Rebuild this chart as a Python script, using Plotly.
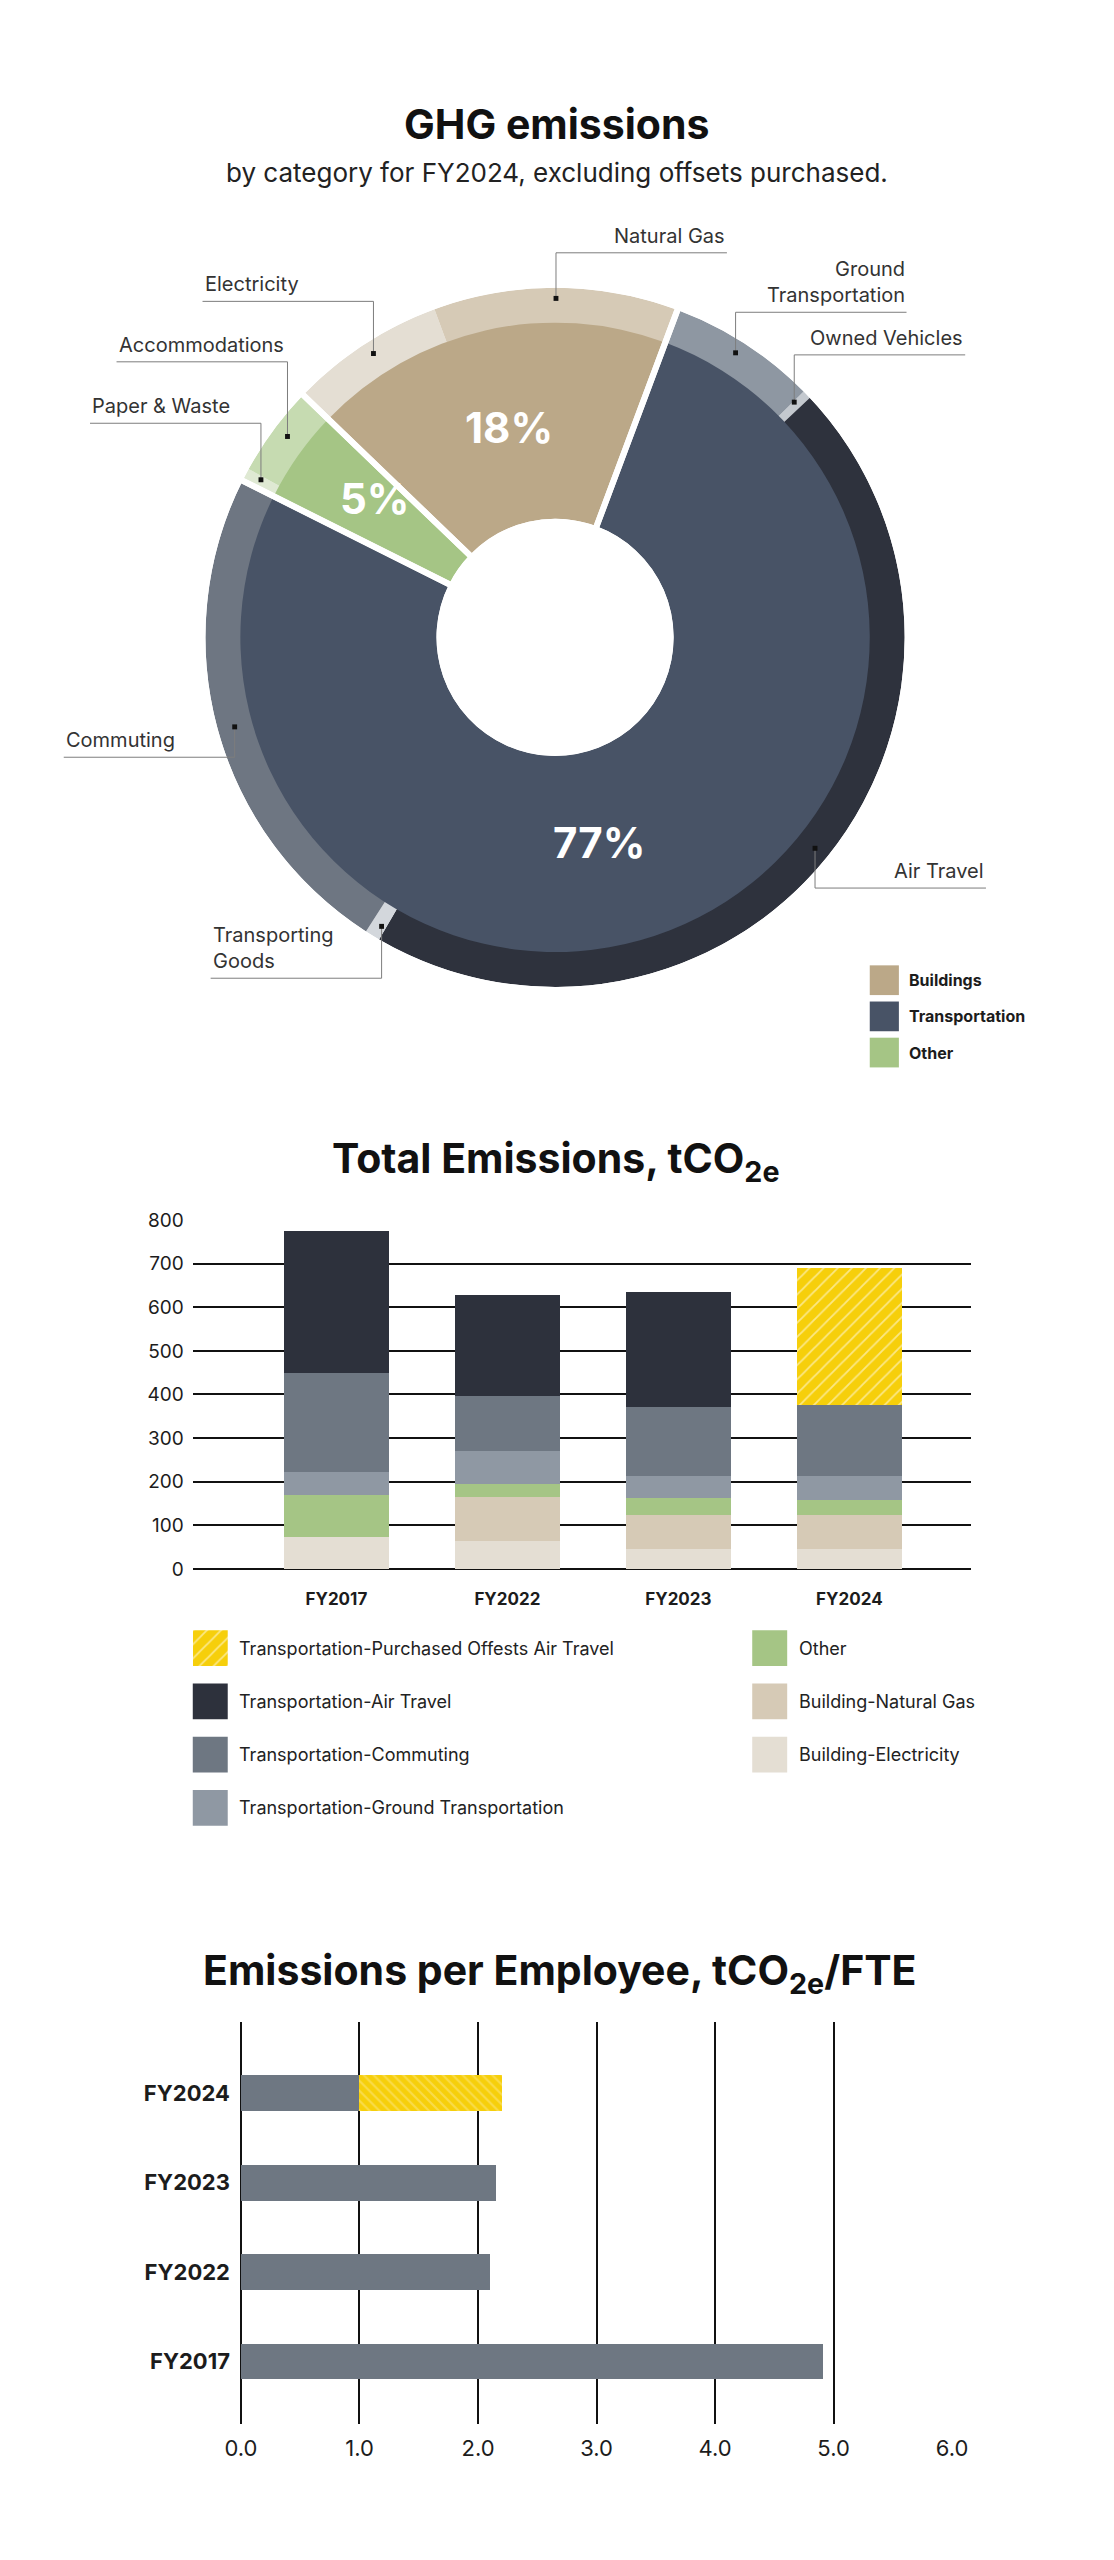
import math
import plotly.graph_objects as go

# ---------------------------------------------------------------------------
# Page / fonts
# ---------------------------------------------------------------------------
W, H = 1114, 2560
FONT = "Inter"
INK = "#1c1c1c"

# ---------------------------------------------------------------------------
# Data: donut (FY2024 share by category, %)
# ---------------------------------------------------------------------------
pie_sub_labels = ["Ground Transportation", "Owned Vehicles", "Air Travel",
                  "Transporting Goods", "Commuting", "Paper & Waste",
                  "Accommodations", "Electricity", "Natural Gas"]
pie_sub_values = [6.9, 0.4, 45.4, 0.7, 23.3, 0.6, 4.2, 7.2, 11.3]
pie_sub_group = ["Transportation", "Transportation", "Transportation",
                 "Transportation", "Transportation", "Other", "Other",
                 "Buildings", "Buildings"]
pie_main_labels = ["Transportation", "Other", "Buildings"]

# ---------------------------------------------------------------------------
# Data: total emissions, tCO2e (stacked, bottom to top)
# ---------------------------------------------------------------------------
bar_years = ["FY2017", "FY2022", "FY2023", "FY2024"]
bar_electricity = [73, 64, 45, 45]
bar_natural_gas = [0, 100, 79, 78]
bar_other = [97, 31, 38, 34]
bar_ground = [53, 75, 50, 55]
bar_commuting = [227, 127, 159, 163]
bar_air = [324, 232, 265, 0]
bar_offsets = [0, 0, 0, 316]
bar_ticks = [0, 100, 200, 300, 400, 500, 600, 700, 800]

# ---------------------------------------------------------------------------
# Data: emissions per employee, tCO2e/FTE
# ---------------------------------------------------------------------------
fte_years = ["FY2017", "FY2022", "FY2023", "FY2024"]
fte_net = [4.91, 2.10, 2.15, 1.00]
fte_offset = [0, 0, 0, 1.20]
fte_ticks = [0, 1, 2, 3, 4, 5, 6]

# ---------------------------------------------------------------------------
# Colours
# ---------------------------------------------------------------------------
MAIN_COLOURS = {"Transportation": "#485366", "Other": "#a5c585", "Buildings": "#bba888"}
SUB_COLOURS = {
    "Ground Transportation": "#8e97a2",
    "Owned Vehicles": "#c4c9cf",
    "Air Travel": "#2e323d",
    "Transporting Goods": "#d3d7dc",
    "Commuting": "#6e7682",
    "Paper & Waste": "#dfe9d3",
    "Accommodations": "#c6dbb1",
    "Electricity": "#e4ded3",
    "Natural Gas": "#d6cab6",
}
YELLOW = "#f6cf0b"
C_AIR = "#2d313c"
C_COMMUTE = "#6e7782"
C_GROUND = "#8f98a3"
C_OTHER = "#a5c585"
C_GAS = "#d6cab6"
C_ELEC = "#e4ded3"
C_FTE = "#6e7782"


def px(x):
    return x / W


def py(y):
    return 1 - y / H


fig = go.Figure()
shapes = []
annotations = []


def text(x, y, s, size, weight=400, color=INK, xanchor="center", yanchor="middle", align="center"):
    annotations.append(dict(
        x=px(x), y=py(y), xref="paper", yref="paper", text=s, showarrow=False,
        xanchor=xanchor, yanchor=yanchor, align=align,
        font=dict(family=FONT, size=size, color=color, weight=weight),
    ))


# ---------------------------------------------------------------------------
# Donut
# ---------------------------------------------------------------------------
CX, CY = 555, 632
R_OUT, R_IN, R_HOLE, R_DOT = 360, 324, 122, 342
ROTATION = 20.5

pie_main_values = [sum(v for v, g in zip(pie_sub_values, pie_sub_group) if g == m)
                   for m in pie_main_labels]


def pie_domain(r):
    return dict(x=[px(CX - r), px(CX + r)], y=[py(CY + r), py(CY - r)])


# outer ring: sub categories
fig.add_trace(go.Pie(
    labels=pie_sub_labels, values=pie_sub_values, sort=False,
    direction="clockwise", rotation=ROTATION, hole=0.85,
    marker=dict(colors=[SUB_COLOURS[l] for l in pie_sub_labels], line=dict(width=0)),
    textinfo="none", hoverinfo="skip", domain=pie_domain(R_OUT), showlegend=False,
))
# inner ring: main categories
fig.add_trace(go.Pie(
    labels=pie_main_labels, values=pie_main_values, sort=False,
    direction="clockwise", rotation=ROTATION, hole=R_HOLE / R_IN,
    marker=dict(colors=[MAIN_COLOURS[l] for l in pie_main_labels], line=dict(width=0)),
    textinfo="none", hoverinfo="skip", domain=pie_domain(R_IN), showlegend=False,
))
# white separators between the main categories
fig.add_trace(go.Pie(
    labels=pie_main_labels, values=pie_main_values, sort=False,
    direction="clockwise", rotation=ROTATION, hole=(R_HOLE - 3) / (R_OUT + 3),
    marker=dict(colors=["rgba(0,0,0,0)"] * 3, line=dict(color="white", width=6)),
    textinfo="none", hoverinfo="skip", domain=pie_domain(R_OUT + 3), showlegend=False,
))

# percentage labels (position of each label inside its slice)
PCT_POS = {"Transportation": (600, 839), "Other": (370, 492), "Buildings": (508, 420)}
total_main = sum(pie_main_values)
for lab, v in zip(pie_main_labels, pie_main_values):
    x, y = PCT_POS[lab]
    text(x, y, f"{round(v / total_main * 100)}%", 42, weight=700, color="white")

# leader-line labels for the sub categories
LABEL_TEXT = {"Ground Transportation": "Ground<br>Transportation",
              "Transporting Goods": "Transporting<br>Goods"}
LABEL_LAYOUT = {  # underline y (px), side of the label
    "Ground Transportation": (304, "right"),
    "Owned Vehicles": (347, "right"),
    "Air Travel": (885, "right"),
    "Transporting Goods": (976, "left"),
    "Commuting": (753, "left"),
    "Paper & Waste": (416, "left"),
    "Accommodations": (354, "left"),
    "Electricity": (293, "left"),
    "Natural Gas": (244, "right"),
}
UNDERLINE = 176
LEADER = dict(color="#7d7d7d", width=1)
total_sub = sum(pie_sub_values)
cum = 0
for lab, v in zip(pie_sub_labels, pie_sub_values):
    a = math.radians(ROTATION + (cum + v / 2) / total_sub * 360)
    cum += v
    xd, yd = CX + R_DOT * math.sin(a), CY - R_DOT * math.cos(a)
    uy, side = LABEL_LAYOUT[lab]
    xe = xd + UNDERLINE if side == "right" else xd - UNDERLINE
    shapes.append(dict(type="line", xref="paper", yref="paper",
                       x0=px(xd), y0=py(yd), x1=px(xd), y1=py(uy), line=LEADER))
    shapes.append(dict(type="line", xref="paper", yref="paper",
                       x0=px(xd), y0=py(uy), x1=px(xe), y1=py(uy), line=LEADER))
    shapes.append(dict(type="rect", xref="paper", yref="paper",
                       x0=px(xd - 2.5), y0=py(yd + 2.5), x1=px(xd + 2.5), y1=py(yd - 2.5),
                       fillcolor="#111111", line=dict(width=0)))
    text(xe, uy - 3, LABEL_TEXT.get(lab, lab), 20, color="#333333",
         xanchor="right" if side == "right" else "left", yanchor="bottom",
         align="right" if side == "right" else "left")

# donut legend
for i, lab in enumerate(["Buildings", "Transportation", "Other"]):
    top = 963 + i * 36.5
    shapes.append(dict(type="rect", xref="paper", yref="paper",
                       x0=px(879), y0=py(top + 30), x1=px(909), y1=py(top),
                       fillcolor=MAIN_COLOURS[lab], line=dict(width=0)))
    text(917, top + 15, lab, 16, weight=700, xanchor="left")

text(557, 114, "GHG emissions", 41, weight=700, color="#111111")
text(557, 163, "by category for FY2024, excluding offsets purchased.", 26, color="#222222")

# ---------------------------------------------------------------------------
# Total emissions: stacked columns
# ---------------------------------------------------------------------------
bar_series = [
    ("Building-Electricity", bar_electricity, C_ELEC),
    ("Building-Natural Gas", bar_natural_gas, C_GAS),
    ("Other", bar_other, C_OTHER),
    ("Transportation-Ground Transportation", bar_ground, C_GROUND),
    ("Transportation-Commuting", bar_commuting, C_COMMUTE),
    ("Transportation-Air Travel", bar_air, C_AIR),
]
for name, vals, col in bar_series:
    fig.add_trace(go.Bar(x=bar_years, y=vals, name=name, width=0.614,
                         marker=dict(color=col, line=dict(width=0)),
                         hoverinfo="skip", xaxis="x", yaxis="y"))

HATCH_V = dict(shape="/", bgcolor=YELLOW, fgcolor="white", size=10, solidity=0.18)
fig.add_trace(go.Bar(x=bar_years, y=bar_offsets,
                     name="Transportation-Purchased Offests Air Travel", width=0.614,
                     marker=dict(color=YELLOW, line=dict(width=0), pattern=HATCH_V),
                     hoverinfo="skip", xaxis="x", yaxis="y"))

text(556, 1160, "Total Emissions, tCO<sub>2e</sub>", 41, weight=700, color="#111111")

# custom two-column legend
legend_cols = [
    (182, [("Transportation-Purchased Offests Air Travel", None),
           ("Transportation-Air Travel", C_AIR),
           ("Transportation-Commuting", C_COMMUTE),
           ("Transportation-Ground Transportation", C_GROUND)]),
    (758, [("Other", C_OTHER),
           ("Building-Natural Gas", C_GAS),
           ("Building-Electricity", C_ELEC)]),
]
SW = 36
for x0, items in legend_cols:
    for i, (lab, col) in enumerate(items):
        top = 1634 + i * 53.7
        if col is not None:
            shapes.append(dict(type="rect", xref="paper", yref="paper",
                               x0=px(x0), y0=py(top + SW), x1=px(x0 + SW), y1=py(top),
                               fillcolor=col, line=dict(width=0)))
        text(x0 + 46, top + SW / 2, lab, 18, color="#222222", xanchor="left")

# hatched swatch drawn as a bar on its own tiny axis
fig.add_trace(go.Bar(x=[0], y=[1], width=1,
                     marker=dict(color=YELLOW, line=dict(width=0), pattern=HATCH_V),
                     hoverinfo="skip", xaxis="x3", yaxis="y3"))

# ---------------------------------------------------------------------------
# Emissions per employee: horizontal bars
# ---------------------------------------------------------------------------
fig.add_trace(go.Bar(y=fte_years, x=fte_net, orientation="h", width=0.40,
                     marker=dict(color=C_FTE, line=dict(width=0)),
                     hoverinfo="skip", xaxis="x2", yaxis="y2"))
fig.add_trace(go.Bar(y=fte_years, x=fte_offset, orientation="h", width=0.40,
                     marker=dict(color=YELLOW, line=dict(width=0),
                                 pattern=dict(shape="\\", bgcolor=YELLOW, fgcolor="#fbe88a",
                                              size=7, solidity=0.3)),
                     hoverinfo="skip", xaxis="x2", yaxis="y2"))

text(560, 1980, "Emissions per Employee, tCO<sub>2e</sub>/FTE", 41, weight=700, color="#111111")

# ---------------------------------------------------------------------------
# Layout
# ---------------------------------------------------------------------------
fig.update_layout(
    width=W, height=H, autosize=False,
    margin=dict(l=0, r=0, t=0, b=0, pad=0),
    paper_bgcolor="white", plot_bgcolor="white",
    barmode="stack", showlegend=False,
    font=dict(family=FONT, color=INK),
    shapes=shapes, annotations=annotations,
    xaxis=dict(domain=[px(182), px(983)], anchor="y", type="category",
               range=[-0.84, 3.71], showgrid=False, zeroline=False, showline=False,
               ticks="", ticklabelstandoff=18,
               tickfont=dict(family=FONT, size=17, color=INK, weight=700)),
    yaxis=dict(domain=[py(1572), py(1220)], anchor="x", range=[0, 800],
               tickvals=bar_ticks, showgrid=True, gridcolor="#111111", gridwidth=2,
               zeroline=True, zerolinecolor="#111111", zerolinewidth=2,
               showline=False, ticks="", ticklabelstandoff=8,
               tickfont=dict(family=FONT, size=19, color=INK)),
    xaxis2=dict(domain=[px(231.6), px(963.8)], anchor="y2", range=[0, 6],
                tickvals=fte_ticks, tickformat=".1f", showgrid=True,
                gridcolor="#111111", gridwidth=1.5, zeroline=True,
                zerolinecolor="#111111", zerolinewidth=1.5, showline=False,
                ticks="", ticklabelstandoff=9,
                tickfont=dict(family=FONT, size=22, color=INK)),
    yaxis2=dict(domain=[py(2435), py(2029)], anchor="x2", type="category",
                categoryorder="array", categoryarray=fte_years,
                range=[-0.70, 3.80], showgrid=False, zeroline=False, showline=False,
                ticks="", ticklabelstandoff=10,
                tickfont=dict(family=FONT, size=22, color=INK, weight=700)),
    xaxis3=dict(domain=[px(182), px(182 + SW)], anchor="y3", range=[-0.5, 0.5],
                visible=False, fixedrange=True),
    yaxis3=dict(domain=[py(1634 + SW), py(1634)], anchor="x3", range=[0, 1],
                visible=False, fixedrange=True),
)

fig.write_html("out.html", config={"displayModeBar": False},
               post_script="document.body.style.margin = '0';")
